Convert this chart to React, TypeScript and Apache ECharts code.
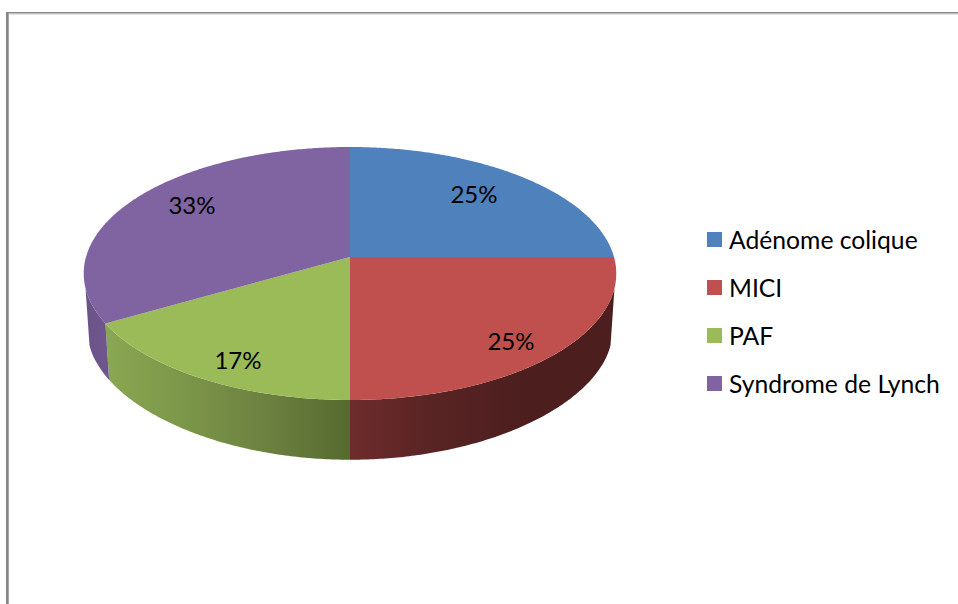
import React, { useEffect, useRef } from "react";
import * as echarts from "echarts";

const categories = ["Adénome colique", "MICI", "PAF", "Syndrome de Lynch"];
const caseCounts = [3, 3, 2, 4];
const topColors = ["#4f81bd", "#c0504d", "#9bbb59", "#8064a2"];
// Horizontal shading of each slice's outer wall, left to right.
const wallStops: string[][] = [
  ["#3c6291", "#3c6291"],
  ["#6e2c2c", "#582323", "#4c1e1e", "#4c1e1e"],
  ["#8aa753", "#7b9648", "#6c8040", "#556a2e"],
  ["#6a5388", "#6f578e"],
];

const FONT = "Lato";
const total = caseCounts.reduce((a, b) => a + b, 0);

// Perspective disc: apex of the slices, half-axes and foreshortening.
const APEX_X = 350;
const APEX_Y = 257;
const RADIUS_X = 264;
const RADIUS_Y = 124.35;
const TILT = 0.1304;
// The lower rim sits further from the eye, so it has its own proportions.
const BASE_SCALE_X = 0.985;
const BASE_Y = 316;
const BASE_RADIUS_Y = 115;
const BASE_TILT = 0.2;

// Centres of the percentage labels on the top face.
const labelCentres = [
  [474, 193],
  [511, 340],
  [238, 359],
  [192, 204],
];

function topPoint(angle: number) {
  const wx = Math.sin(angle);
  const wy = -Math.cos(angle);
  const d = 1 - TILT * wy;
  return [APEX_X + (RADIUS_X * wx) / d, APEX_Y + (RADIUS_Y * wy) / d];
}

function basePoint(angle: number) {
  const wx = Math.sin(angle);
  const wy = -Math.cos(angle);
  return [
    APEX_X + (BASE_SCALE_X * RADIUS_X * wx) / (1 - TILT * wy),
    BASE_Y + (BASE_RADIUS_Y * wy) / (1 - BASE_TILT * wy),
  ];
}

function arc(from: number, to: number, at: (angle: number) => number[]) {
  const steps = Math.max(2, Math.ceil(Math.abs(to - from) / 0.01));
  const pts: number[][] = [];
  for (let i = 0; i <= steps; i++) {
    pts.push(at(from + ((to - from) * i) / steps));
  }
  return pts;
}

function sliceRange(index: number) {
  const before = caseCounts.slice(0, index).reduce((a, b) => a + b, 0);
  return [
    (before / total) * Math.PI * 2,
    ((before + caseCounts[index]) / total) * Math.PI * 2,
  ];
}

// The wall is visible only between the two silhouette tangents of the disc.
const TANGENT = 0.245;
const WALL_MIN = Math.PI / 2 + TANGENT;
const WALL_MAX = (Math.PI * 3) / 2 - TANGENT;

function makeRenderItem(index: number, layer: "wall" | "top") {
  return () => {
    const [start, end] = sliceRange(index);
    if (layer === "wall") {
      const from = Math.max(start, WALL_MIN);
      const to = Math.min(end, WALL_MAX);
      if (from >= to) return { type: "group", children: [] };
      // Red and purple walls still start at the slice edge of the visible rim.
      const points = [...arc(from, to, topPoint), ...arc(to, from, basePoint)];
      const stops = wallStops[index];
      return {
        type: "polygon",
        shape: { points },
        style: {
          fill: {
            type: "linear",
            x: 0,
            y: 0,
            x2: 1,
            y2: 0,
            colorStops: stops.map((color, i) => ({
              offset: i / (stops.length - 1),
              color,
            })),
          },
        },
      };
    }
    const points = [[APEX_X, APEX_Y], ...arc(start, end, topPoint)];
    const [lx, ly] = labelCentres[index];
    return {
      type: "group",
      children: [
        { type: "polygon", shape: { points }, style: { fill: topColors[index] } },
        {
          type: "text",
          z2: 10,
          style: {
            x: lx,
            y: ly,
            text: `${Math.round((caseCounts[index] / total) * 100)}%`,
            fill: "#000000",
            font: `24px ${FONT}`,
            align: "center",
            verticalAlign: "middle",
          },
        },
      ],
    };
  };
}

export default function App() {
  const ref = useRef<HTMLDivElement>(null);

  useEffect(() => {
    const chart = echarts.init(ref.current!, undefined, { renderer: "svg" });
    const walls = categories.map((name, i) => ({
      type: "custom",
      name: `${name} (paroi)`,
      coordinateSystem: "none",
      silent: true,
      z: 2,
      data: [caseCounts[i]],
      renderItem: makeRenderItem(i, "wall"),
    }));
    const tops = categories.map((name, i) => ({
      type: "custom",
      name,
      coordinateSystem: "none",
      silent: true,
      z: 3,
      data: [caseCounts[i]],
      itemStyle: { color: topColors[i] },
      renderItem: makeRenderItem(i, "top"),
    }));
    chart.setOption({
      animation: false,
      backgroundColor: "#ffffff",
      legend: {
        orient: "vertical",
        left: 707,
        top: 227,
        data: categories,
        icon: "rect",
        itemWidth: 15,
        itemHeight: 15,
        itemGap: 23,
        padding: 0,
        selectedMode: false,
        textStyle: {
          fontFamily: FONT,
          fontSize: 24.7,
          color: "#000000",
          padding: [0, 0, 0, 2],
        },
      },
      graphic: [
        { type: "rect", shape: { x: 6, y: 12, width: 952, height: 1.5 }, style: { fill: "#868686" } },
        { type: "rect", shape: { x: 6, y: 13.5, width: 952, height: 1 }, style: { fill: "#c4c4c4" } },
        { type: "rect", shape: { x: 6, y: 12, width: 2, height: 592 }, style: { fill: "#868686" } },
        { type: "rect", shape: { x: 8, y: 13, width: 1, height: 591 }, style: { fill: "#a6a6a6" } },
      ],
      series: [...walls, ...tops],
    });
    return () => chart.dispose();
  }, []);

  return (
    <div
      ref={ref}
      style={{ position: "absolute", left: 0, top: 0, width: 958, height: 604 }}
    />
  );
}
